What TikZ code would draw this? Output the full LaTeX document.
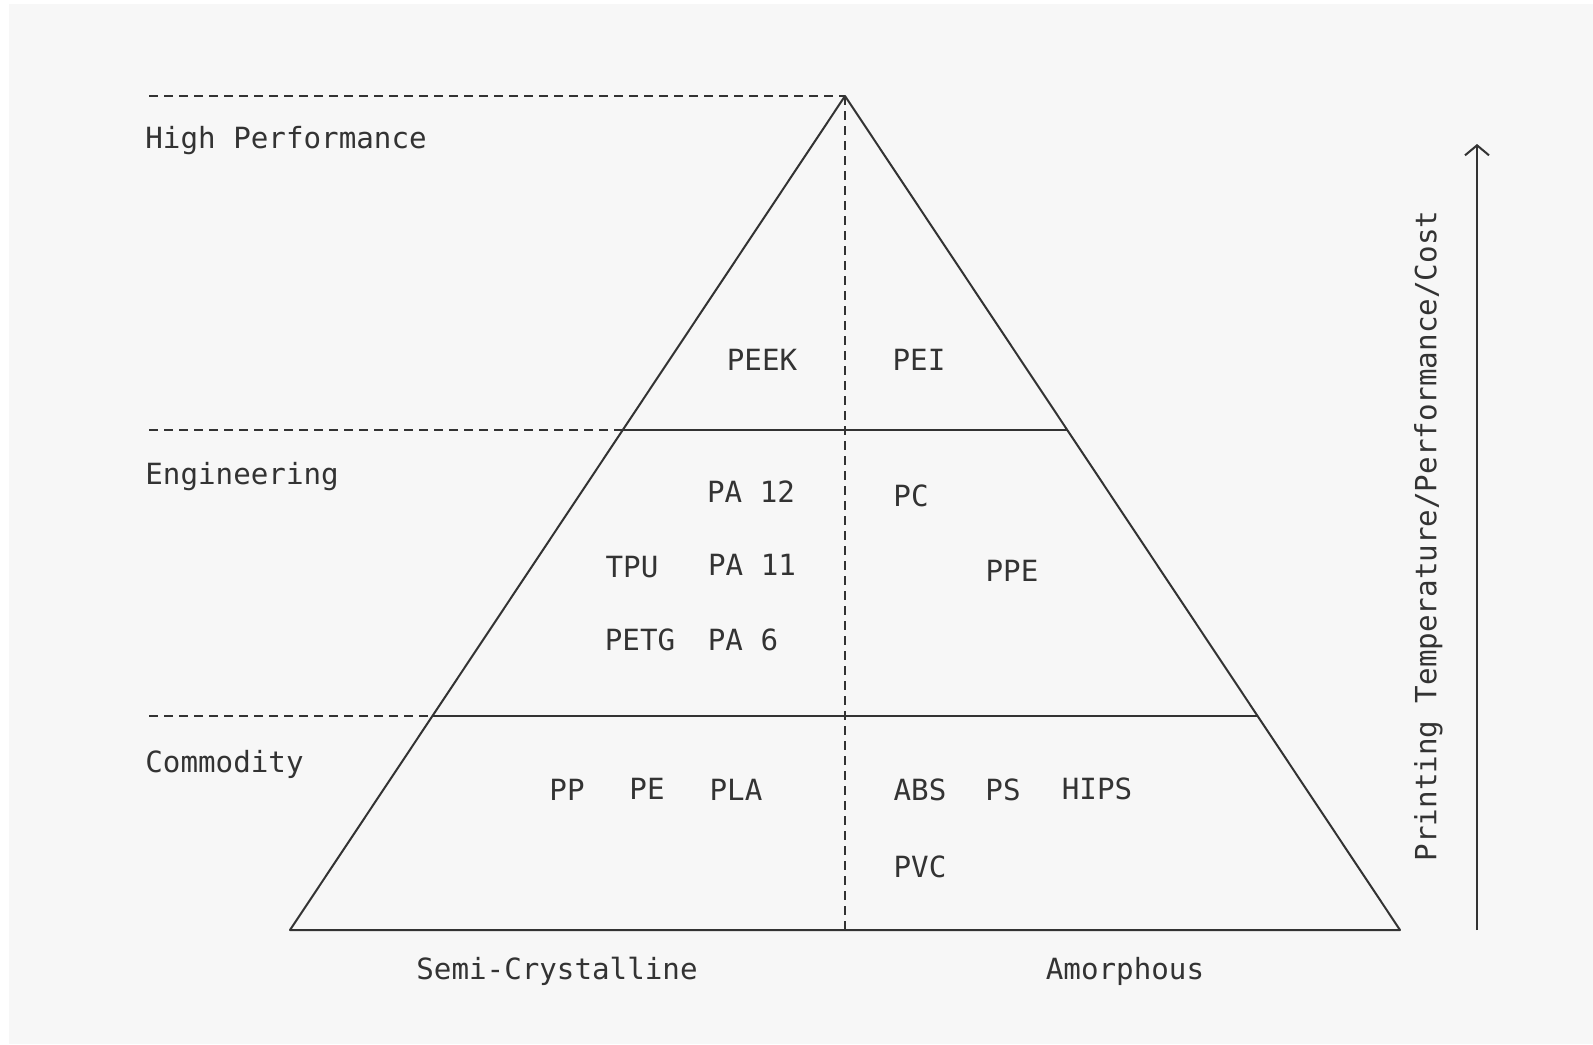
\documentclass[tikz,border=0pt]{standalone}
\usepackage{fontspec}
\setmonofont{DejaVu Sans Mono}
\usetikzlibrary{arrows.meta}
\definecolor{bgc}{HTML}{F7F7F7}
\definecolor{ink}{HTML}{333333}
\tikzset{
  lbl/.style={font=\ttfamily\fontsize{14.6pt}{16pt}\selectfont, text=ink, inner sep=0pt, text height=0.73em, text depth=0pt, yshift=-1.5pt},
  solidline/.style={draw=ink, line width=1pt, line join=round},
  dashline/.style={draw=ink, line width=1pt, dash pattern=on 4.5pt off 3pt},
}
\begin{document}
\begin{tikzpicture}[x=0.5pt,y=-0.5pt]
\useasboundingbox (0,0) rectangle (1593,1044);
\fill[white] (0,0) rectangle (1593,1044);
\fill[bgc] (9,4) rectangle (1593,1044);
% pyramid points
\coordinate (apex) at (845,96);
\coordinate (bl) at (290,930);
\coordinate (br) at (1400,930);
\coordinate (bm) at (845,930);
\coordinate (ml) at (621,430);
\coordinate (mr) at (1067,430);
\coordinate (ll) at (432,716);
\coordinate (lr) at (1257,716);
\coordinate (d1) at (149,96);
\coordinate (d2) at (149,430);
\coordinate (d3) at (149,716);
\coordinate (ab) at (1477,930);
\coordinate (at) at (1477,144);
% dashed guides
\draw[dashline] (d1) -- (apex);
\draw[dashline] (d2) -- (ml);
\draw[dashline] (d3) -- (ll);
\draw[dashline] (apex) -- (bm);
% pyramid
\draw[solidline] (apex) -- (bl) -- (br) -- cycle;
\draw[solidline] (ml) -- (mr);
\draw[solidline] (ll) -- (lr);
% arrow
\draw[draw=ink, line width=1pt, -{Straight Barb[length=5pt,width=12pt]}] (ab) -- (at);
% tier labels
\node[lbl, anchor=west] (hp) at (145,138) {High Performance};
\node[lbl, anchor=west] (eng) at (145,474) {Engineering};
\node[lbl, anchor=west] (com) at (145,762) {Commodity};
% materials
\node[lbl] (peek) at (762,360) {PEEK};
\node[lbl] (pei) at (919,360) {PEI};
\node[lbl] (pa12) at (751,492) {PA 12};
\node[lbl] (pc) at (911,496) {PC};
\node[lbl] (tpu) at (632,567) {TPU};
\node[lbl] (pa11) at (752,565) {PA 11};
\node[lbl] (ppe) at (1012,571) {PPE};
\node[lbl] (petg) at (640,640) {PETG};
\node[lbl] (pa6) at (743,640) {PA 6};
\node[lbl] (pp) at (567,790) {PP};
\node[lbl] (pe) at (647,789) {PE};
\node[lbl] (pla) at (736,790) {PLA};
\node[lbl] (abs) at (920,790) {ABS};
\node[lbl] (ps) at (1003,790) {PS};
\node[lbl] (hips) at (1097,789) {HIPS};
\node[lbl] (pvc) at (920,867) {PVC};
% axis labels
\node[lbl] (semi) at (557,969) {Semi-Crystalline};
\node[lbl] (amor) at (1125,969) {Amorphous};
\node[lbl, yshift=1.5pt, xshift=0.5pt, rotate=90] (ptpc) at (1428,536) {Printing Temperature/Performance/Cost};
\end{tikzpicture}
\end{document}
